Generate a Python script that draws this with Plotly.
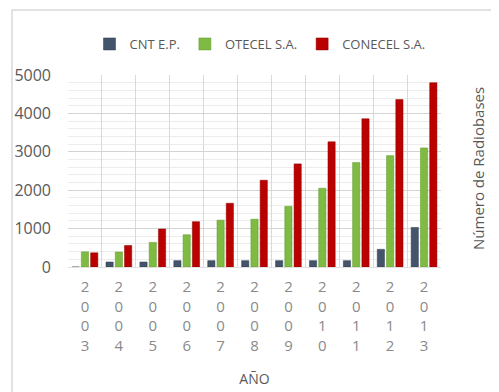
import plotly.graph_objects as go

years = ["2003", "2004", "2005", "2006", "2007", "2008", "2009", "2010", "2011", "2012", "2013"]
year_labels = ["<br>".join(list(y)) for y in years]
cnt = [0, 130, 130, 165, 165, 165, 165, 165, 165, 460, 1030]
otecel = [395, 390, 640, 840, 1220, 1245, 1580, 2050, 2720, 2900, 3100]
conecel = [370, 560, 990, 1180, 1660, 2260, 2685, 3260, 3860, 4360, 4800]

# the page body has an 8px default margin; the figure fills the rest of the window
OFF = 8
W, H = 499 - OFF, 392 - OFF
L, R, T, B = 68 - OFF, 499 - 441, 75 - OFF, 392 - 267
pw, ph = W - L - R, H - T - B

def px(x):
    return (x - OFF - L) / pw

def py(y):
    return (H - B - (y - OFF)) / ph

fig = go.Figure()
fig.add_trace(go.Bar(name="CNT E.P.", x=years, y=cnt, marker_color="#44546a",
                     marker_line=dict(color="#2e3a4d", width=0.5)))
fig.add_trace(go.Bar(name="OTECEL S.A.", x=years, y=otecel, marker_color="#7fba42",
                     marker_line=dict(color="#5f9a2c", width=0.5)))
fig.add_trace(go.Bar(name="CONECEL S.A.", x=years, y=conecel, marker_color="#bb0000",
                     marker_line=dict(color="#8c0000", width=0.5)))

font = "Open Sans, DejaVu Sans, sans-serif"
fig.update_layout(
    width=W, height=H,
    margin=dict(l=L, r=R, t=T, b=B, autoexpand=False),
    paper_bgcolor="white", plot_bgcolor="white",
    barmode="group", bargap=0.18, bargroupgap=0.22,
    font=dict(family=font, color="#595959"),
    legend=dict(orientation="h", x=px(260), xanchor="center", y=py(44), yanchor="middle",
                font=dict(size=13, color="#595959"), itemwidth=30, traceorder="normal"),
    xaxis=dict(type="category", tickson="boundaries", tickvals=years, ticktext=year_labels,
               showgrid=True, gridcolor="#d9d9d9", gridwidth=1, ticks="",
               ticklabelstandoff=6,
               tickfont=dict(size=15, color="#8a8a8a"), showline=True, linecolor="#e0e0e0",
               title=dict(text="AÑO", font=dict(size=14, color="#595959"), standoff=20),
               fixedrange=True),
    yaxis=dict(range=[0, 5000], tickvals=[0, 1000, 2000, 3000, 4000, 5000], showgrid=True,
               gridcolor="#d4d4d4", gridwidth=1, zeroline=False, ticks="",
               ticklabelstandoff=16, tickfont=dict(size=16, color="#595959"),
               minor=dict(dtick=200, showgrid=True, gridcolor="#ececec", gridwidth=1),
               fixedrange=True),
    shapes=[dict(type="rect", xref="paper", yref="paper", x0=px(12), x1=px(499 + 20),
                 y0=py(392 + 20), y1=py(10), line=dict(color="#d9d9d9", width=1.5),
                 fillcolor="rgba(0,0,0,0)", layer="below")],
    annotations=[dict(text="Número de Radiobases", xref="paper", yref="paper", x=px(478),
                      y=py(169), textangle=-90, showarrow=False,
                      font=dict(size=15, color="#595959"), xanchor="center", yanchor="middle")],
)

fig.write_html("out.html")
